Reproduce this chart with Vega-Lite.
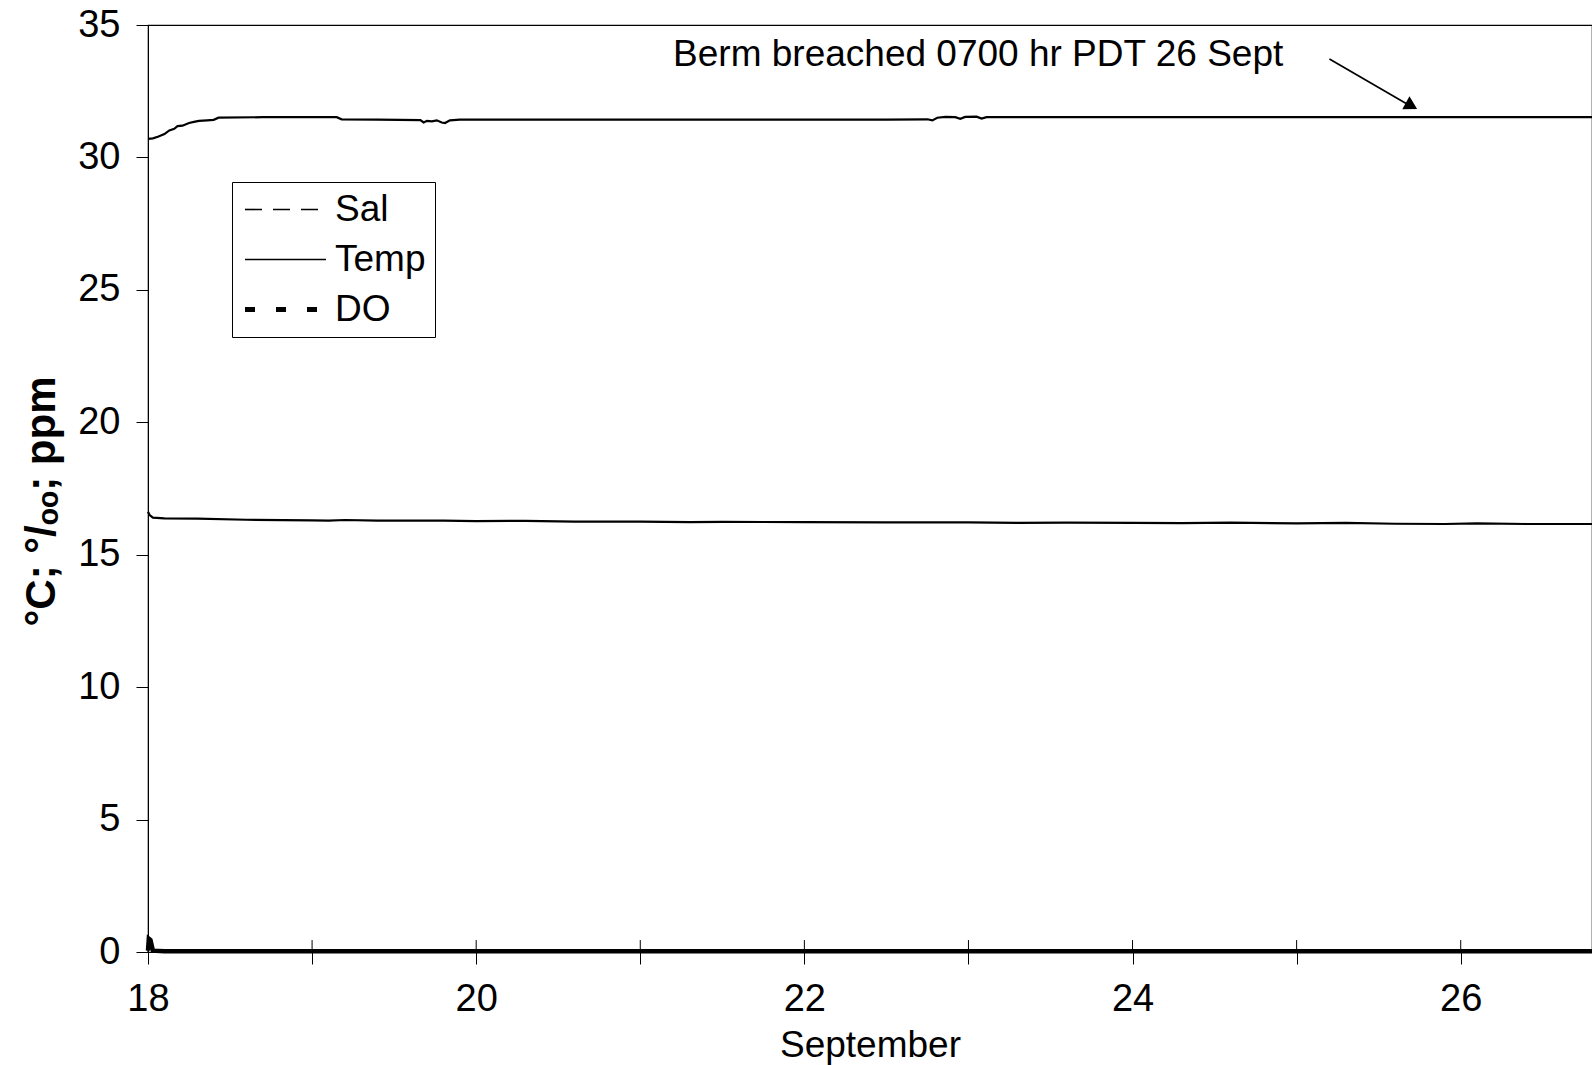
{
  "$schema": "https://vega.github.io/schema/vega-lite/v6.json",
  "autosize": "none",
  "padding": {"left": 148, "top": 25, "right": 0, "bottom": 113},
  "width": 1444,
  "height": 927,
  "background": "white",
  "config": {
    "font": "Liberation Sans",
    "view": {"stroke": "black", "strokeWidth": 1.2},
    "axis": {"labelColor": "black", "titleColor": "black", "domainColor": "black", "tickColor": "black", "grid": false, "labelFont": "Liberation Sans", "titleFont": "Liberation Sans"},
    "legend": {"labelFont": "Liberation Sans"}
  },
  "datasets": {
    "series": [
      {"series": "Sal", "day": 18.00, "v": 30.70},
      {"series": "Sal", "day": 18.03, "v": 30.72},
      {"series": "Sal", "day": 18.06, "v": 30.78},
      {"series": "Sal", "day": 18.10, "v": 30.88},
      {"series": "Sal", "day": 18.13, "v": 31.02},
      {"series": "Sal", "day": 18.16, "v": 31.08},
      {"series": "Sal", "day": 18.18, "v": 31.18},
      {"series": "Sal", "day": 18.21, "v": 31.20},
      {"series": "Sal", "day": 18.25, "v": 31.30},
      {"series": "Sal", "day": 18.28, "v": 31.34},
      {"series": "Sal", "day": 18.31, "v": 31.38},
      {"series": "Sal", "day": 18.36, "v": 31.40},
      {"series": "Sal", "day": 18.40, "v": 31.42},
      {"series": "Sal", "day": 18.43, "v": 31.50},
      {"series": "Sal", "day": 18.70, "v": 31.52},
      {"series": "Sal", "day": 19.00, "v": 31.52},
      {"series": "Sal", "day": 19.15, "v": 31.52},
      {"series": "Sal", "day": 19.18, "v": 31.44},
      {"series": "Sal", "day": 19.40, "v": 31.43},
      {"series": "Sal", "day": 19.66, "v": 31.41},
      {"series": "Sal", "day": 19.68, "v": 31.32},
      {"series": "Sal", "day": 19.70, "v": 31.38},
      {"series": "Sal", "day": 19.73, "v": 31.36},
      {"series": "Sal", "day": 19.76, "v": 31.40},
      {"series": "Sal", "day": 19.79, "v": 31.32},
      {"series": "Sal", "day": 19.81, "v": 31.30},
      {"series": "Sal", "day": 19.84, "v": 31.40},
      {"series": "Sal", "day": 19.90, "v": 31.43},
      {"series": "Sal", "day": 20.50, "v": 31.43},
      {"series": "Sal", "day": 21.00, "v": 31.43},
      {"series": "Sal", "day": 21.50, "v": 31.43},
      {"series": "Sal", "day": 22.00, "v": 31.43},
      {"series": "Sal", "day": 22.50, "v": 31.43},
      {"series": "Sal", "day": 22.75, "v": 31.44},
      {"series": "Sal", "day": 22.78, "v": 31.40},
      {"series": "Sal", "day": 22.81, "v": 31.50},
      {"series": "Sal", "day": 22.86, "v": 31.53},
      {"series": "Sal", "day": 22.92, "v": 31.52},
      {"series": "Sal", "day": 22.95, "v": 31.46},
      {"series": "Sal", "day": 22.98, "v": 31.53},
      {"series": "Sal", "day": 23.05, "v": 31.54},
      {"series": "Sal", "day": 23.08, "v": 31.47},
      {"series": "Sal", "day": 23.11, "v": 31.52},
      {"series": "Sal", "day": 23.50, "v": 31.52},
      {"series": "Sal", "day": 24.00, "v": 31.52},
      {"series": "Sal", "day": 25.00, "v": 31.52},
      {"series": "Sal", "day": 26.00, "v": 31.52},
      {"series": "Sal", "day": 26.80, "v": 31.52},
      {"series": "Temp", "day": 18.00, "v": 16.62},
      {"series": "Temp", "day": 18.01, "v": 16.50},
      {"series": "Temp", "day": 18.03, "v": 16.40},
      {"series": "Temp", "day": 18.10, "v": 16.37},
      {"series": "Temp", "day": 18.30, "v": 16.36},
      {"series": "Temp", "day": 18.60, "v": 16.32},
      {"series": "Temp", "day": 19.00, "v": 16.30},
      {"series": "Temp", "day": 19.10, "v": 16.29},
      {"series": "Temp", "day": 19.20, "v": 16.31},
      {"series": "Temp", "day": 19.40, "v": 16.29},
      {"series": "Temp", "day": 19.80, "v": 16.29},
      {"series": "Temp", "day": 20.00, "v": 16.27},
      {"series": "Temp", "day": 20.30, "v": 16.28},
      {"series": "Temp", "day": 20.60, "v": 16.25},
      {"series": "Temp", "day": 21.00, "v": 16.25},
      {"series": "Temp", "day": 21.30, "v": 16.23},
      {"series": "Temp", "day": 21.50, "v": 16.24},
      {"series": "Temp", "day": 22.00, "v": 16.23},
      {"series": "Temp", "day": 22.50, "v": 16.22},
      {"series": "Temp", "day": 23.00, "v": 16.22},
      {"series": "Temp", "day": 23.30, "v": 16.20},
      {"series": "Temp", "day": 23.60, "v": 16.21},
      {"series": "Temp", "day": 24.00, "v": 16.20},
      {"series": "Temp", "day": 24.30, "v": 16.19},
      {"series": "Temp", "day": 24.60, "v": 16.21},
      {"series": "Temp", "day": 25.00, "v": 16.18},
      {"series": "Temp", "day": 25.30, "v": 16.20},
      {"series": "Temp", "day": 25.60, "v": 16.17},
      {"series": "Temp", "day": 25.90, "v": 16.16},
      {"series": "Temp", "day": 26.10, "v": 16.18},
      {"series": "Temp", "day": 26.40, "v": 16.16},
      {"series": "Temp", "day": 26.80, "v": 16.16},
      {"series": "DO", "day": 18.000, "v": 0.05},
      {"series": "DO", "day": 18.005, "v": 0.50},
      {"series": "DO", "day": 18.015, "v": 0.45},
      {"series": "DO", "day": 18.030, "v": 0.05},
      {"series": "DO", "day": 18.100, "v": 0.03},
      {"series": "DO", "day": 20.000, "v": 0.03},
      {"series": "DO", "day": 22.000, "v": 0.03},
      {"series": "DO", "day": 24.000, "v": 0.03},
      {"series": "DO", "day": 26.000, "v": 0.03},
      {"series": "DO", "day": 26.800, "v": 0.03}
    ],
    "keys": [
      {"series": "Sal"},
      {"series": "Temp"},
      {"series": "DO"}
    ],
    "days": [
      {"day": 18}, {"day": 19}, {"day": 20}, {"day": 21}, {"day": 22},
      {"day": 23}, {"day": 24}, {"day": 25}, {"day": 26}
    ],
    "note": [
      {"label": "Berm breached 0700 hr PDT 26 Sept", "day": 21.2, "v": 33.87, "day2": 25.2, "v2": 33.72, "day3": 25.72, "v3": 31.85, "hday": 25.70, "hv": 31.95}
    ]
  },
  "layer": [
    {
      "data": {"name": "series"},
      "transform": [{"filter": "datum.series !== 'DO'"}],
      "mark": {"type": "line", "color": "black", "strokeWidth": 2.2},
      "encoding": {
        "x": {"field": "day", "type": "quantitative",
          "scale": {"domain": [18, 26.8], "nice": false, "zero": false},
          "axis": {"values": [18,19,20,21,22,23,24,25,26], "labelExpr": "datum.value % 2 == 0 ? datum.value : ''",
            "tickSize": 12, "labelFontSize": 38, "labelPadding": 16, "labelFlush": false,
            "title": "September", "titleFontSize": 37, "titleFontWeight": "normal", "titlePadding": 9}},
        "y": {"field": "v", "type": "quantitative",
          "scale": {"domain": [0, 35], "nice": false},
          "axis": {"values": [0,5,10,15,20,25,30,35], "tickSize": 12, "labelFontSize": 38, "labelPadding": 16,
            "title": "°C; °/ₒₒ; ppm", "titleFontSize": 42, "titleFontWeight": "bold", "titlePadding": 14, "titleY": 476}},
        "detail": {"field": "series", "type": "nominal"}
      }
    },
    {
      "data": {"name": "days"},
      "mark": {"type": "rule", "color": "black", "strokeWidth": 1, "clip": false},
      "encoding": {
        "x": {"field": "day", "type": "quantitative"},
        "y": {"datum": 0.45, "type": "quantitative"},
        "y2": {"datum": 0}
      }
    },
    {
      "data": {"name": "series"},
      "transform": [{"filter": "datum.series === 'DO'"}],
      "mark": {"type": "line", "color": "black", "strokeWidth": 4.5},
      "encoding": {
        "x": {"field": "day", "type": "quantitative"},
        "y": {"field": "v", "type": "quantitative"}
      }
    },
    {
      "data": {"name": "keys"},
      "mark": {"type": "line", "color": "black"},
      "encoding": {
        "x": {"field": "day", "type": "quantitative"},
        "y": {"field": "v", "type": "quantitative"},
        "strokeDash": {"field": "series", "type": "nominal",
          "scale": {"domain": ["Sal", "Temp", "DO"], "range": [[17, 11], [1, 0], [10, 21]]},
          "legend": {"title": null, "orient": "none", "legendX": 84, "legendY": 157,
            "symbolType": "stroke", "symbolSize": 6561, "symbolStrokeColor": "black", "symbolOffset": 26,
            "labelFontSize": 37, "labelColor": "black", "labelOffset": 31,
            "padding": 9, "rowPadding": 12, "strokeColor": "black", "fillColor": "white",
            "encode": {"symbols": {"update": {"strokeWidth": {"signal": "datum.value === 'DO' ? 5 : 1.6"}}}}}}
      }
    },
    {
      "data": {"name": "note"},
      "mark": {"type": "text", "align": "left", "baseline": "middle", "fontSize": 37, "color": "black"},
      "encoding": {
        "x": {"field": "day", "type": "quantitative"},
        "y": {"field": "v", "type": "quantitative"},
        "text": {"field": "label"}
      }
    },
    {
      "data": {"name": "note"},
      "mark": {"type": "rule", "color": "black", "strokeWidth": 1.7},
      "encoding": {
        "x": {"field": "day2", "type": "quantitative"},
        "y": {"field": "v2", "type": "quantitative"},
        "x2": {"field": "day3"},
        "y2": {"field": "v3"}
      }
    },
    {
      "data": {"name": "note"},
      "mark": {"type": "point", "shape": "triangle-right", "filled": true, "color": "black", "size": 220, "angle": 29, "opacity": 1},
      "encoding": {
        "x": {"field": "hday", "type": "quantitative"},
        "y": {"field": "hv", "type": "quantitative"}
      }
    }
  ]
}
